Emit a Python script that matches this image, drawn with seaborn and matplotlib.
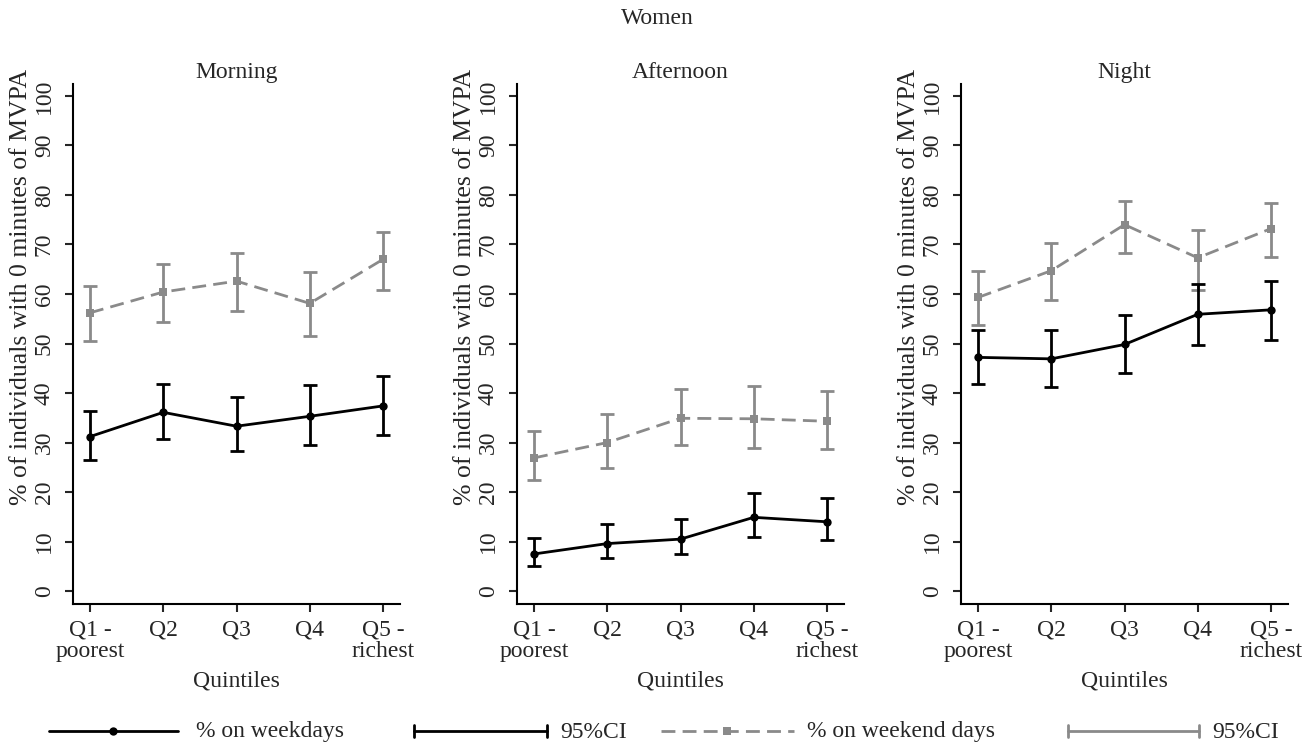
import numpy as np
import pandas as pd
import seaborn as sns
import matplotlib
matplotlib.use("Agg")
import matplotlib.pyplot as plt
from matplotlib.lines import Line2D

# ---------------- data ----------------
quintiles = ["Q1 -\npoorest", "Q2", "Q3", "Q4", "Q5 -\nrichest"]
panels = ["Morning", "Afternoon", "Night"]

morning_weekday = [31.2, 36.1, 33.3, 35.3, 37.4]
morning_weekday_lo = [26.5, 30.8, 28.2, 29.5, 31.6]
morning_weekday_hi = [36.3, 41.8, 39.1, 41.6, 43.5]
morning_weekend = [56.2, 60.4, 62.6, 58.1, 67.0]
morning_weekend_lo = [50.5, 54.4, 56.6, 51.5, 60.8]
morning_weekend_hi = [61.6, 66.1, 68.2, 64.4, 72.5]

afternoon_weekday = [7.5, 9.6, 10.5, 14.9, 14.0]
afternoon_weekday_lo = [5.0, 6.7, 7.5, 11.0, 10.3]
afternoon_weekday_hi = [10.7, 13.5, 14.5, 19.9, 18.9]
afternoon_weekend = [26.9, 30.0, 34.9, 34.8, 34.3]
afternoon_weekend_lo = [22.4, 24.8, 29.6, 29.0, 28.6]
afternoon_weekend_hi = [32.3, 35.8, 40.9, 41.4, 40.4]

night_weekday = [47.2, 46.9, 49.8, 55.9, 56.8]
night_weekday_lo = [41.8, 41.3, 44.1, 49.7, 50.7]
night_weekday_hi = [52.7, 52.7, 55.7, 62.0, 62.7]
night_weekend = [59.3, 64.7, 74.0, 67.3, 73.2]
night_weekend_lo = [53.7, 58.8, 68.3, 60.9, 67.5]
night_weekend_hi = [64.7, 70.2, 78.8, 73.0, 78.4]

legend_labels = ["% on weekdays", "95%CI", "% on weekend days", "95%CI"]

series = {
    "Morning": (morning_weekday, morning_weekday_lo, morning_weekday_hi,
                morning_weekend, morning_weekend_lo, morning_weekend_hi),
    "Afternoon": (afternoon_weekday, afternoon_weekday_lo, afternoon_weekday_hi,
                  afternoon_weekend, afternoon_weekend_lo, afternoon_weekend_hi),
    "Night": (night_weekday, night_weekday_lo, night_weekday_hi,
              night_weekend, night_weekend_lo, night_weekend_hi),
}

# ---------------- style ----------------
sns.set_style("ticks")
plt.rcParams["font.family"] = ["Liberation Serif", "DejaVu Serif"]
FS = 17
plt.rcParams["font.size"] = FS

BLACK = "#000000"
GRAY = "#8a8a8a"
LW = 2.0
CAP = 5
DASH = (0, (5, 2.6))

W, H = 1315, 745
fig = plt.figure(figsize=(W / 100, H / 100), dpi=100)

lefts = [73, 517, 961]
ax_w, top_px, bot_px = 327, 84, 604
x = np.arange(len(quintiles))

for name, lp in zip(panels, lefts):
    ax = fig.add_axes([lp / W, 1 - bot_px / H, ax_w / W, (bot_px - top_px) / H])
    wd, wd_lo, wd_hi, we, we_lo, we_hi = series[name]
    df = pd.DataFrame({"q": x, "weekday": wd, "weekend": we})

    # weekend (gray dashed, squares)
    ax.errorbar(x, we, yerr=[np.array(we) - np.array(we_lo), np.array(we_hi) - np.array(we)],
                fmt="none", ecolor=GRAY, elinewidth=LW, capsize=CAP, capthick=LW, zorder=2)
    sns.lineplot(data=df, x="q", y="weekend", ax=ax, color=GRAY, marker="s",
                 markersize=6, markeredgewidth=0, linewidth=LW,
                 linestyle=DASH, zorder=3)
    # weekday (black solid, circles)
    ax.errorbar(x, wd, yerr=[np.array(wd) - np.array(wd_lo), np.array(wd_hi) - np.array(wd)],
                fmt="none", ecolor=BLACK, elinewidth=LW, capsize=CAP, capthick=LW, zorder=4)
    sns.lineplot(data=df, x="q", y="weekday", ax=ax, color=BLACK, marker="o",
                 markersize=6, markeredgewidth=0, linewidth=LW, zorder=5)

    ax.set_xlim(-0.232, 4.232)
    ax.set_ylim(-2.6, 102.4)
    ax.set_yticks(np.arange(0, 101, 10))
    ax.set_xticks(x)
    ax.set_xticklabels(quintiles, linespacing=1.05)
    ax.tick_params(axis="y", labelrotation=90, length=6, width=1.5, pad=7, labelsize=FS)
    ax.tick_params(axis="x", length=6, width=1.5, pad=5, labelsize=FS)
    for lab in ax.get_yticklabels():
        lab.set_va("center")
    for s in ["top", "right"]:
        ax.spines[s].set_visible(False)
    for s in ["left", "bottom"]:
        ax.spines[s].set_linewidth(1.5)
        ax.spines[s].set_color(BLACK)
    ax.set_title(name, fontsize=FS, pad=4)
    ax.set_xlabel("Quintiles", fontsize=FS)
    ax.xaxis.set_label_coords(0.5, -0.128)
    ax.set_ylabel("% of individuals with 0 minutes of MVPA", fontsize=18.5)
    ax.yaxis.set_label_coords(-0.125, 0.61)

fig.text(0.5, 1 - 18 / H, "Women", ha="center", va="center", fontsize=FS)

# ---------------- legend (drawn in a pixel-coordinate overlay) ----------------
lax = fig.add_axes([0, 0, 1, 1], zorder=-1)
lax.set_xlim(0, W)
lax.set_ylim(H, 0)
lax.axis("off")
ly = 731
cap_h = 6


def ci_handle(x0, x1, color):
    lax.add_line(Line2D([x0, x1], [ly, ly], color=color, lw=LW))
    lax.add_line(Line2D([x0, x0], [ly - cap_h, ly + cap_h], color=color, lw=LW))
    lax.add_line(Line2D([x1, x1], [ly - cap_h, ly + cap_h], color=color, lw=LW))


lax.add_line(Line2D([49, 113.5, 178], [ly, ly, ly], color=BLACK, lw=LW, marker="o",
                    markersize=6, markeredgewidth=0, markevery=[1]))
lax.text(196, ly + 1, legend_labels[0], va="center", ha="left", fontsize=FS)
ci_handle(414, 547, BLACK)
lax.text(560, ly + 1, legend_labels[1], va="center", ha="left", fontsize=FS)
lax.add_line(Line2D([661, 727.5, 794], [ly, ly, ly], color=GRAY, lw=LW, marker="s",
                    markersize=6, markeredgewidth=0, markevery=[1], linestyle=DASH))
lax.text(807, ly + 1, legend_labels[2], va="center", ha="left", fontsize=FS)
ci_handle(1068, 1199, GRAY)
lax.text(1212, ly + 1, legend_labels[3], va="center", ha="left", fontsize=FS)

fig.savefig("out.png", dpi=100)
